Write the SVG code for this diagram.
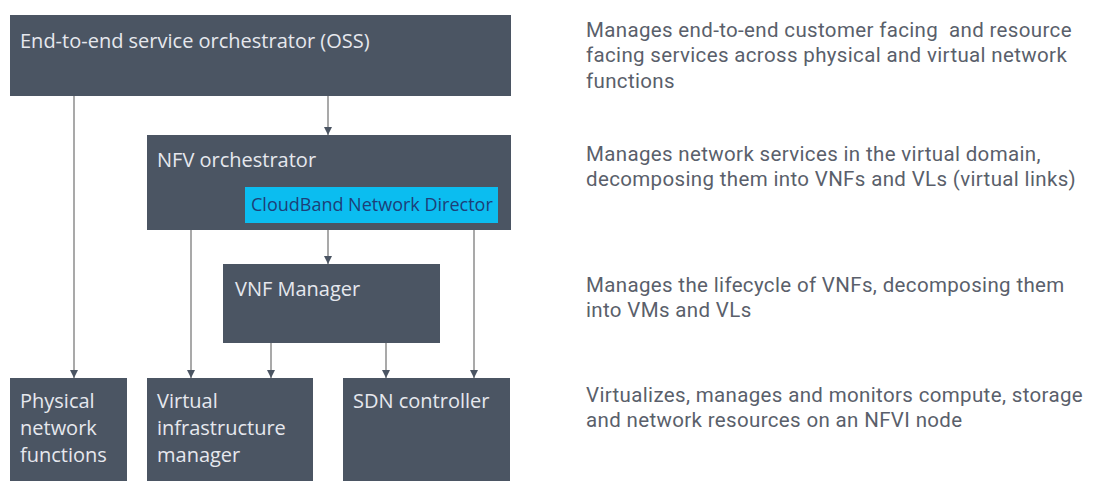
<svg xmlns="http://www.w3.org/2000/svg" width="1109" height="481" viewBox="0 0 1109 481">
<style>
.box{fill:#4b5563;}
.lbl{font-family:"Open Sans","Noto Sans",sans-serif;font-size:20px;fill:#e6e8ee;}
.cb{fill:#0bbdf0;}
.cbt{font-family:"Open Sans","Noto Sans",sans-serif;font-size:18px;fill:#1d3f78;}
.desc{font-family:Roboto,"Open Sans",sans-serif;font-size:20.5px;letter-spacing:0.35px;fill:#5a5f6b;white-space:pre;}
.con{stroke:#8c8c8c;stroke-width:1.5;fill:none;marker-end:url(#ah);}
</style>
<defs>
<marker id="ah" viewBox="0 0 10 10" refX="10" refY="5" markerWidth="8" markerHeight="8" markerUnits="userSpaceOnUse" orient="auto">
<path d="M0,0 L10,5 L0,10 Z" fill="#4b5563"/>
</marker>
</defs>
<rect width="1109" height="481" fill="#ffffff"/>
<g id="connectors">
<line class="con" x1="74" y1="96" x2="74" y2="378"/>
<line class="con" x1="328" y1="96" x2="328" y2="135"/>
<line class="con" x1="191" y1="230" x2="191" y2="378"/>
<line class="con" x1="328" y1="223" x2="328" y2="264"/>
<line class="con" x1="474" y1="230" x2="474" y2="378"/>
<line class="con" x1="271" y1="343" x2="271" y2="378"/>
<line class="con" x1="386" y1="343" x2="386" y2="378"/>
</g>
<g id="oss">
<rect class="box" x="10" y="15" width="501" height="81"/>
<text class="lbl" x="20" y="48">End-to-end service orchestrator (OSS)</text>
</g>
<g id="nfvo">
<rect class="box" x="147" y="135" width="364" height="95"/>
<text class="lbl" x="157" y="167">NFV orchestrator</text>
</g>
<g id="cloudband">
<rect class="cb" x="245" y="187" width="253" height="36"/>
<text class="cbt" x="251" y="211">CloudBand Network Director</text>
</g>
<g id="vnfm">
<rect class="box" x="223" y="264" width="217" height="79"/>
<text class="lbl" x="235" y="296">VNF Manager</text>
</g>
<g id="pnf">
<rect class="box" x="10" y="378" width="117" height="110"/>
<text class="lbl" x="20" y="408">Physical</text>
<text class="lbl" x="20" y="435">network</text>
<text class="lbl" x="20" y="462">functions</text>
</g>
<g id="vim">
<rect class="box" x="147" y="378" width="166" height="110"/>
<text class="lbl" x="157" y="408">Virtual</text>
<text class="lbl" x="157" y="435">infrastructure</text>
<text class="lbl" x="157" y="462">manager</text>
</g>
<g id="sdn">
<rect class="box" x="343" y="378" width="167" height="110"/>
<text class="lbl" x="353" y="408">SDN controller</text>
</g>
<g id="descriptions">
<text class="desc" x="586" y="37" xml:space="preserve">Manages end-to-end customer facing  and resource</text>
<text class="desc" x="586" y="62">facing services across physical and virtual network</text>
<text class="desc" x="586" y="88">functions</text>
<text class="desc" x="586" y="161">Manages network services in the virtual domain,</text>
<text class="desc" x="586" y="186">decomposing them into VNFs and VLs (virtual links)</text>
<text class="desc" x="586" y="292">Manages the lifecycle of VNFs, decomposing them</text>
<text class="desc" x="586" y="317">into VMs and VLs</text>
<text class="desc" x="586" y="402">Virtualizes, manages and monitors compute, storage</text>
<text class="desc" x="586" y="427">and network resources on an NFVI node</text>
</g>
</svg>
